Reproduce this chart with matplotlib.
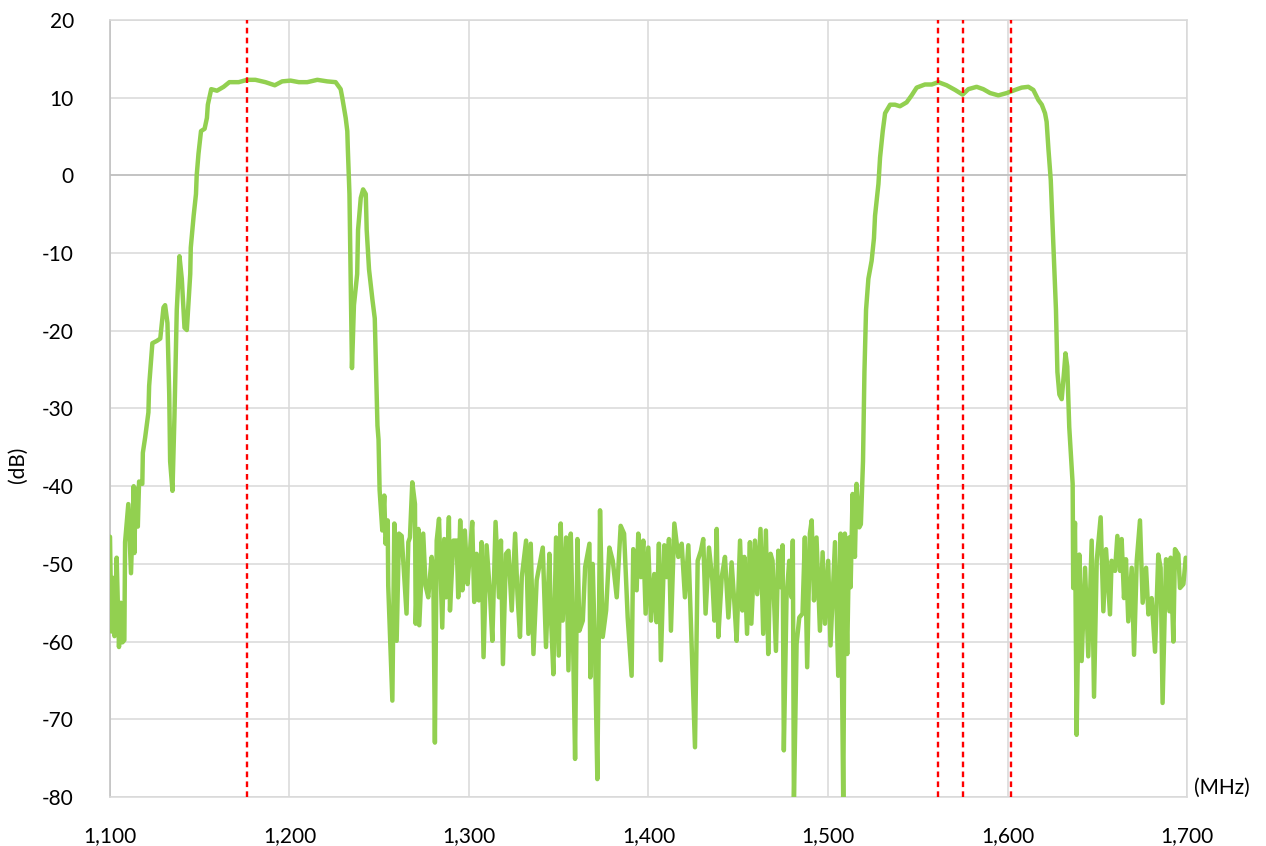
import matplotlib
matplotlib.use("Agg")
import matplotlib.pyplot as plt
from matplotlib.ticker import FuncFormatter, MultipleLocator
import numpy as np

plt.rcParams['font.family'] = ['Lato', 'DejaVu Sans']

# Lower skirt of the first passband (MHz, dB)
skirt1_freq = [1100.0, 1100.8, 1101.9, 1102.5, 1103.7, 1105.0, 1106.1, 1106.9, 1108.0, 1108.4,
               1110.2, 1111.7, 1113.2, 1113.6, 1114.3, 1115.5, 1116.2, 1118.0, 1118.3, 1119.6,
               1121.4, 1121.8, 1123.6, 1126.1, 1128.0, 1129.8, 1130.7, 1132.0, 1133.0, 1133.5,
               1134.8, 1135.9, 1137.2, 1138.7, 1140.0, 1141.5, 1142.8, 1144.7, 1145.0, 1146.6,
               1147.9, 1148.3, 1149.3, 1150.7, 1152.7, 1154.0, 1154.5, 1156.4]
skirt1_db = [-46.5, -58.7, -51.8, -59.3, -49.2, -60.7, -55.0, -60.1, -59.8, -47.2,
             -42.3, -51.2, -40.0, -48.6, -40.3, -45.2, -39.4, -39.7, -35.7, -33.7,
             -30.5, -27.1, -21.6, -21.3, -21.0, -17.0, -16.7, -19.0, -28.2, -36.8,
             -40.6, -31.1, -17.3, -10.4, -13.3, -19.6, -19.9, -12.7, -9.3, -5.2,
             -2.4, 0.0, 2.8, 5.7, 6.0, 7.4, 9.1, 11.1]

# First passband and its upper skirt
band1_freq = [1159.6, 1163.3, 1166.5, 1171.7, 1176.4, 1181.0, 1186.6, 1191.8, 1195.9, 1200.6,
              1205.2, 1209.9, 1215.5, 1221.0, 1225.7, 1228.5, 1229.4, 1231.3, 1232.2, 1232.5,
              1233.4, 1234.1, 1234.8, 1235.9, 1237.7, 1238.2, 1239.7, 1241.0, 1242.5, 1243.0,
              1244.3, 1246.2, 1247.5, 1248.0, 1249.0, 1249.6, 1250.2]
band1_db = [10.9, 11.4, 12.0, 12.0, 12.3, 12.3, 12.0, 11.6, 12.1, 12.2,
            12.0, 12.0, 12.3, 12.1, 12.0, 11.1, 10.0, 7.4, 5.7, 3.4,
            -2.4, -13.9, -24.8, -16.7, -12.7, -7.0, -2.9, -1.8, -2.4, -7.0,
            -12.1, -16.0, -18.4, -23.0, -32.2, -34.0, -40.5]

# Stopband between the two passbands
floor_freq = [1251.7, 1252.8, 1253.5, 1254.7, 1255.0, 1257.3, 1258.4, 1259.7, 1261.0, 1262.5,
              1265.2, 1266.2, 1267.1, 1268.4, 1269.9, 1270.3, 1271.8, 1272.3, 1274.5, 1275.8,
              1277.3, 1279.2, 1280.1, 1281.0, 1282.0, 1283.3, 1285.1, 1286.2, 1287.2, 1288.8,
              1289.4, 1291.3, 1293.1, 1294.0, 1295.1, 1296.3, 1297.7, 1299.2, 1300.5, 1301.8,
              1302.9, 1304.2, 1305.5, 1307.0, 1308.1, 1309.8, 1311.7, 1313.0, 1314.8, 1316.7,
              1317.8, 1318.9, 1320.6, 1322.0, 1323.8, 1325.7, 1327.0, 1328.4, 1329.4, 1331.8,
              1333.1, 1334.4, 1335.9, 1337.7, 1341.1, 1342.9, 1344.8, 1345.5, 1347.0, 1348.5,
              1350.0, 1351.1, 1352.2, 1354.1, 1355.4, 1356.7, 1357.8, 1359.1, 1360.4, 1361.5,
              1363.4, 1364.7, 1367.1, 1367.6, 1368.9, 1370.2, 1371.5, 1373.0, 1374.5, 1376.4,
              1378.2, 1380.1, 1382.3, 1384.5, 1386.4, 1388.4, 1390.6, 1391.5, 1393.4, 1394.3,
              1395.8, 1397.1, 1398.4, 1399.9, 1401.4, 1403.2, 1404.5, 1405.8, 1406.9, 1408.8,
              1410.1, 1411.4, 1412.5, 1414.4, 1416.6, 1418.5, 1420.3, 1422.2, 1423.7, 1425.9,
              1427.4, 1429.2, 1430.5, 1431.8, 1433.7, 1435.6, 1436.7, 1438.0, 1438.9, 1440.8,
              1442.6, 1444.5, 1446.3, 1447.8, 1449.1, 1451.0, 1452.3, 1453.4, 1454.9, 1456.5,
              1457.3, 1459.3, 1460.6, 1462.4, 1463.9, 1465.4, 1466.7, 1468.0, 1469.1, 1471.0,
              1472.3, 1473.6, 1474.7, 1475.4, 1476.9, 1478.4, 1479.7, 1480.4, 1481.0, 1482.5,
              1484.0, 1485.8, 1487.1, 1488.4, 1489.9, 1490.9, 1492.2, 1493.6, 1495.5, 1497.0,
              1498.3, 1500.1, 1501.4, 1503.9, 1505.7, 1507.0, 1508.5, 1509.4, 1510.7, 1511.8,
              1512.6, 1513.7, 1515.0, 1515.9, 1517.4, 1518.3]
floor_db = [-45.7, -41.2, -47.4, -44.4, -52.8, -67.6, -44.8, -59.9, -46.1, -46.4,
            -56.4, -47.2, -46.6, -39.5, -42.3, -57.7, -45.5, -57.9, -46.1, -52.8,
            -54.3, -49.1, -50.9, -73.0, -47.0, -44.2, -58.2, -46.8, -54.3, -44.0,
            -56.0, -47.0, -47.0, -54.3, -44.4, -53.4, -45.7, -52.6, -48.5, -44.6,
            -54.9, -48.7, -54.7, -47.2, -62.0, -47.6, -53.9, -59.9, -44.6, -54.3,
            -47.0, -62.9, -48.7, -48.3, -56.0, -46.1, -53.9, -59.4, -51.7, -47.0,
            -59.0, -47.4, -61.6, -52.1, -47.9, -60.7, -48.7, -56.0, -64.2, -46.6,
            -61.8, -44.8, -57.3, -46.6, -63.7, -46.1, -57.7, -75.1, -46.8, -58.6,
            -57.3, -50.4, -47.4, -64.6, -50.0, -61.2, -77.7, -43.1, -59.4, -56.0,
            -47.9, -49.6, -54.3, -45.1, -46.1, -56.9, -64.4, -48.1, -53.4, -46.1,
            -51.7, -47.0, -56.4, -47.9, -57.3, -51.3, -57.5, -47.4, -62.4, -47.6,
            -51.7, -46.8, -58.6, -44.8, -49.1, -47.4, -54.3, -47.6, -58.2, -73.6,
            -49.6, -48.3, -46.8, -56.4, -47.9, -52.2, -57.3, -45.5, -59.4, -51.7,
            -49.1, -56.9, -49.8, -54.9, -59.9, -47.0, -56.0, -49.1, -59.0, -47.2,
            -57.7, -47.0, -53.9, -45.5, -59.0, -45.7, -61.6, -48.7, -49.6, -61.2,
            -48.3, -53.0, -47.6, -74.0, -54.3, -49.6, -54.3, -47.0, -81.0, -60.3,
            -56.9, -56.4, -46.6, -63.3, -46.1, -44.4, -54.7, -46.6, -58.6, -48.5,
            -57.7, -49.6, -60.5, -47.2, -64.4, -46.1, -81.0, -46.1, -61.6, -46.6,
            -53.0, -41.0, -49.1, -39.7, -45.3, -44.9]

# Second passband with its skirts
band2_freq = [1519.5, 1520.3, 1521.2, 1522.5, 1524.3, 1525.6, 1526.2, 1528.1, 1529.0, 1530.5,
              1531.8, 1534.6, 1537.3, 1540.1, 1543.8, 1546.6, 1549.4, 1554.0, 1557.8, 1561.5,
              1566.1, 1570.8, 1575.0, 1578.2, 1582.8, 1586.5, 1590.3, 1594.9, 1599.6, 1604.2,
              1607.9, 1611.6, 1614.4, 1617.2, 1619.1, 1620.9, 1621.8, 1622.8, 1624.1, 1625.6,
              1627.0, 1627.8, 1628.9, 1630.2, 1631.5, 1632.3, 1633.3, 1634.4, 1636.3]
band2_db = [-36.8, -25.3, -17.3, -13.3, -11.0, -8.1, -5.2, -1.1, 2.3, 5.7,
            8.0, 9.1, 9.1, 8.9, 9.4, 10.3, 11.3, 11.7, 11.7, 12.0,
            11.6, 11.0, 10.4, 11.1, 11.4, 11.1, 10.6, 10.3, 10.6, 11.0,
            11.3, 11.4, 11.0, 9.7, 9.1, 8.0, 6.9, 3.4, -0.6, -9.3,
            -17.3, -25.3, -28.2, -28.8, -25.3, -22.9, -24.6, -32.4, -39.7]

# Stopband above the second passband
upper_freq = [1636.6, 1637.6, 1638.5, 1640.0, 1641.3, 1643.2, 1645.0, 1646.9, 1648.2, 1649.7,
              1651.9, 1653.4, 1654.9, 1657.1, 1658.0, 1659.9, 1661.2, 1662.7, 1663.6, 1664.9,
              1666.0, 1667.3, 1669.2, 1670.5, 1672.0, 1673.8, 1675.3, 1677.2, 1678.5, 1680.3,
              1682.2, 1684.0, 1685.3, 1686.4, 1688.3, 1690.2, 1690.9, 1692.4, 1693.3, 1695.2,
              1696.1, 1698.0, 1699.3, 1700.0]
upper_db = [-53.1, -44.7, -72.0, -48.8, -62.5, -50.5, -61.9, -47.0, -67.1, -49.6,
            -44.0, -56.1, -48.1, -56.5, -49.6, -50.9, -46.4, -50.9, -46.8, -54.4,
            -49.4, -57.4, -50.5, -61.7, -49.6, -44.4, -55.0, -50.5, -56.5, -54.4,
            -61.3, -48.8, -50.5, -67.9, -49.4, -56.1, -49.2, -60.0, -48.1, -48.8,
            -53.1, -52.6, -49.2, -49.5]

# GNSS carrier frequencies marked on the plot (MHz)
carrier_freqs = [1176.45, 1561.098, 1575.42, 1602.0]

freq = np.concatenate([skirt1_freq, band1_freq, floor_freq, band2_freq, upper_freq])
gain = np.concatenate([skirt1_db, band1_db, floor_db, band2_db, upper_db])

fig = plt.figure(figsize=(12.66, 8.46), dpi=100)
ax = fig.add_axes([110 / 1266, 1 - 797 / 846, 1077 / 1266, 777 / 846])

grid_col = '#D9D9D9'
ax.set_xlim(1100, 1700)
ax.set_ylim(-80, 20)
ax.xaxis.set_major_locator(MultipleLocator(100))
ax.yaxis.set_major_locator(MultipleLocator(10))
ax.grid(True, color=grid_col, linewidth=1.1, zorder=0)
ax.set_axisbelow(True)
ax.axhline(0, color='#BFBFBF', linewidth=1.2, zorder=1)
for s in ax.spines.values():
    s.set_color(grid_col)
    s.set_linewidth(1.1)
ax.spines['left'].set_color('#BFBFBF')

ax.plot(freq, gain, color='#92D050', linewidth=3.2, solid_joinstyle='round',
        solid_capstyle='round', zorder=3, clip_on=True)

for fc in carrier_freqs:
    ax.axvline(fc, color='#FF0000', linewidth=1.7, linestyle=(0, (2.4, 1.8)), zorder=4)

ax.tick_params(axis='both', length=0, labelsize=15, colors='black')
ax.tick_params(axis='x', pad=21)
ax.tick_params(axis='y', pad=26)
ax.xaxis.set_major_formatter(FuncFormatter(lambda v, p: f"{v:,.0f}"))
ax.yaxis.set_major_formatter(FuncFormatter(lambda v, p: f"{v:.0f}"))

ax.annotate('(MHz)', xy=(1.0325, 0.012), xycoords='axes fraction',
            ha='center', va='center', fontsize=15)
fig.text(18 / 1266, 1 - 465 / 846, '(dB)', rotation=90, ha='center', va='center',
         fontsize=15)

fig.savefig('out.png', dpi=100)
